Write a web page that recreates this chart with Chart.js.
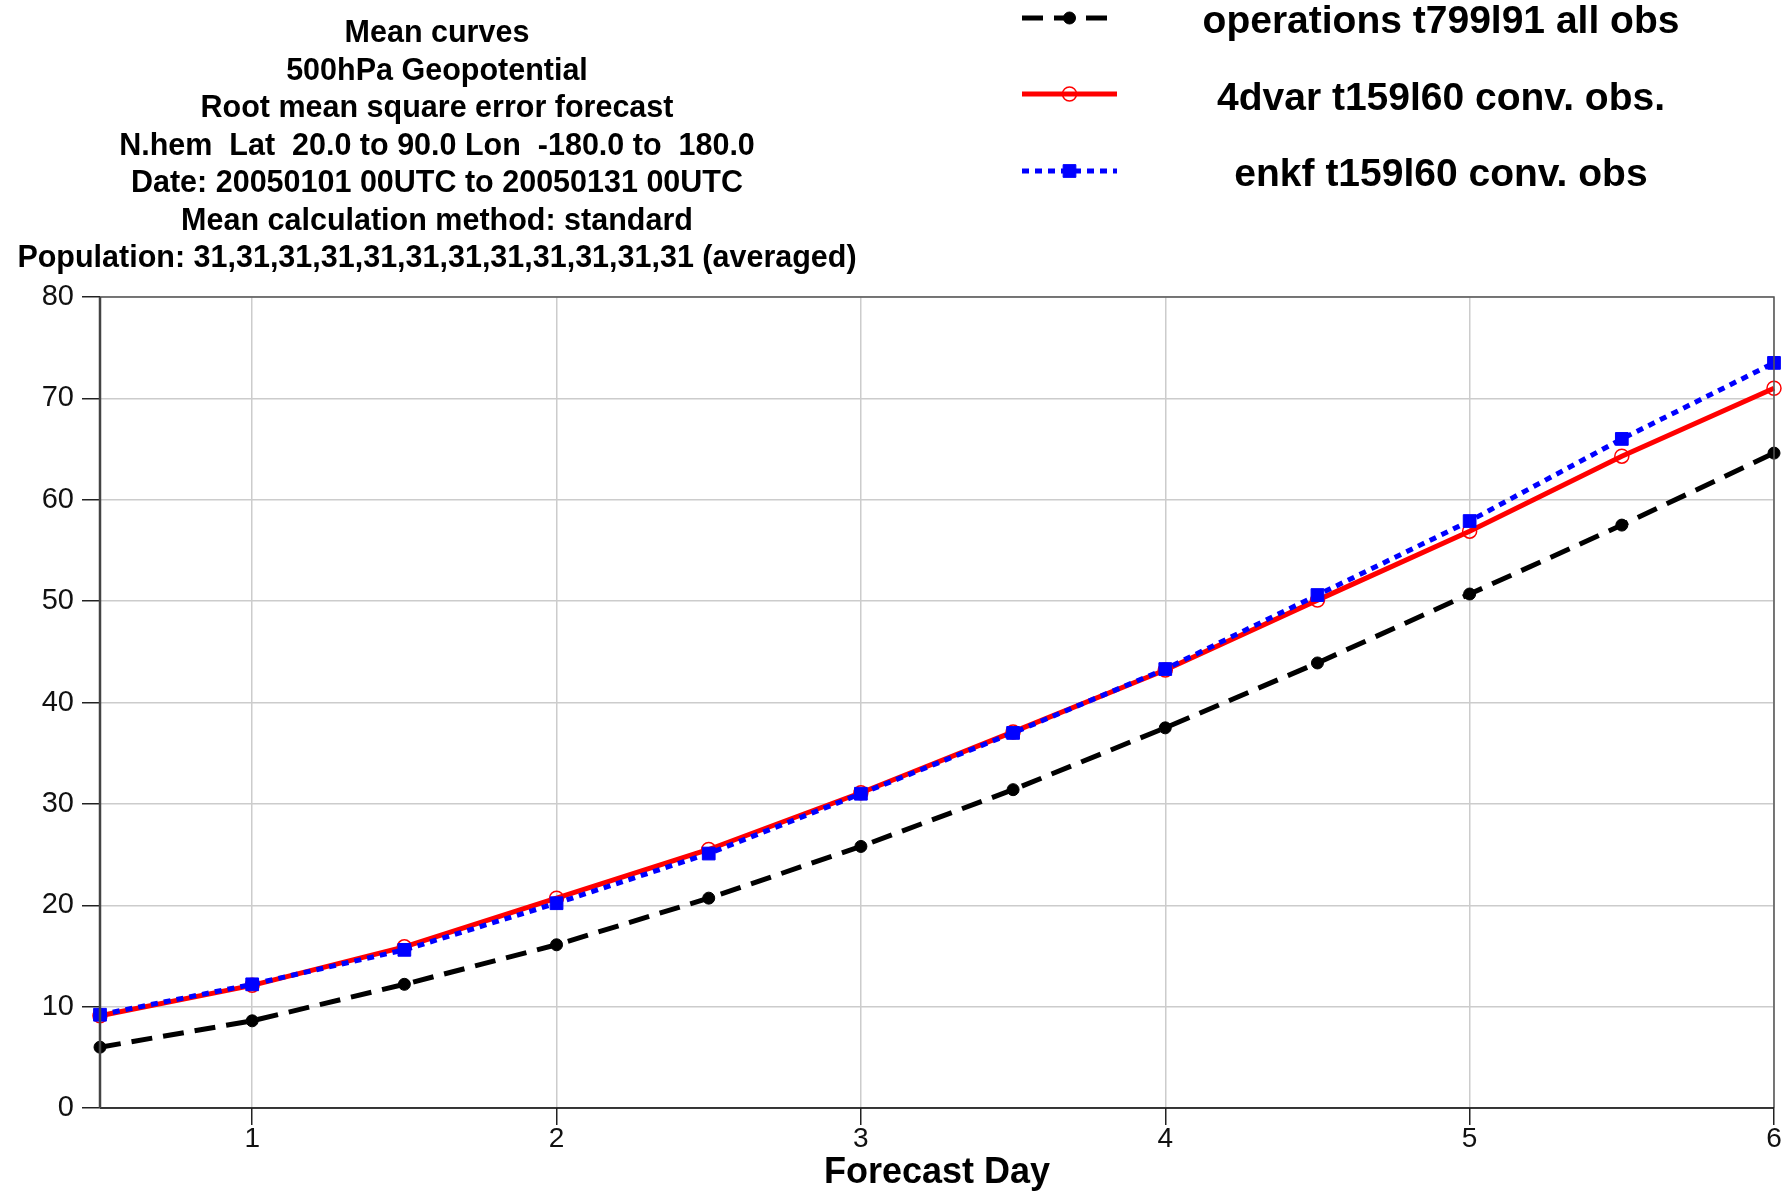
<!DOCTYPE html>
<html>
<head>
<meta charset="utf-8">
<title>Mean curves - 500hPa Geopotential RMSE</title>
<script src="https://cdn.jsdelivr.net/npm/chart.js@4.4.1/dist/chart.umd.min.js"></script>
<style>
  html, body { margin: 0; padding: 0; background: #fff; }
  #wrap { position: relative; width: 1784px; height: 1191px; overflow: hidden; }
  #chart { position: absolute; left: 0; top: 0; }
  .title {
    position: absolute; left: 0; top: 13px; width: 874px;
    text-align: center; color: #000;
    font: bold 30.5px 'Liberation Sans', Arial, sans-serif; line-height: 37.5px;
  }
  .legend-text {
    position: absolute; left: 1200px; width: 482px; height: 46px;
    text-align: center; color: #000;
    font: bold 39px 'Liberation Sans', Arial, sans-serif; line-height: 46px;
  }
</style>
</head>
<body>
<div id="wrap">
  <canvas id="chart" width="1784" height="1191"></canvas>
  <div class="title">
    Mean curves<br>
    500hPa Geopotential<br>
    Root mean square error forecast<br>
    N.hem&nbsp; Lat&nbsp; 20.0 to 90.0 Lon&nbsp; -180.0 to&nbsp; 180.0<br>
    Date: 20050101 00UTC to 20050131 00UTC<br>
    Mean calculation method: standard<br>
    Population: 31,31,31,31,31,31,31,31,31,31,31,31 (averaged)
  </div>
  <div class="legend-text" style="top: -3px;">operations t799l91 all obs</div>
  <div class="legend-text" style="top: 74px;">4dvar t159l60 conv. obs.</div>
  <div class="legend-text" style="top: 150px;">enkf t159l60 conv. obs</div>
</div>
<script>
const forecastDays = [0.5, 1, 1.5, 2, 2.5, 3, 3.5, 4, 4.5, 5, 5.5, 6];
const operationsRmse = [6.0, 8.6, 12.2, 16.1, 20.7, 25.8, 31.4, 37.5, 43.9, 50.7, 57.5, 64.6];
const fourDvarRmse = [9.1, 12.1, 15.9, 20.7, 25.5, 31.1, 37.1, 43.2, 50.1, 56.9, 64.3, 71.0];
const enkfRmse = [9.2, 12.2, 15.6, 20.2, 25.1, 31.0, 37.0, 43.3, 50.6, 57.9, 66.0, 73.5];
const xTickValues = [1, 2, 3, 4, 5, 6];
const yTickValues = [0, 10, 20, 30, 40, 50, 60, 70, 80];

function toPoints(values) {
  return values.map((v, i) => ({ x: forecastDays[i], y: v }));
}

const colorOps = '#000000';
const colorVar = '#ff0000';
const colorEnkf = '#0000ff';
const gridColor = '#cccccc';

// frame round the plot area (top and right edges, left axis is darker)
const chartAreaBorder = {
  id: 'chartAreaBorder',
  afterDatasetsDraw(chart, args, options) {
    const { ctx, chartArea: { left, top, right, bottom } } = chart;
    ctx.save();
    ctx.lineWidth = options.borderWidth;
    ctx.strokeStyle = options.borderColor;
    ctx.beginPath();
    ctx.moveTo(left, top);
    ctx.lineTo(right, top);
    ctx.lineTo(right, bottom);
    ctx.stroke();
    ctx.strokeStyle = '#000';
    ctx.beginPath();
    ctx.moveTo(left, bottom);
    ctx.lineTo(right, bottom);
    ctx.stroke();
    ctx.strokeStyle = options.axisColor;
    ctx.lineWidth = 2.5;
    ctx.beginPath();
    ctx.moveTo(left, top);
    ctx.lineTo(left, bottom);
    ctx.stroke();
    ctx.restore();
  },
};

// line samples for the legend at the top right
const legendSamples = {
  id: 'legendSamples',
  afterDraw(chart, args, options) {
    const { ctx } = chart;
    const cx = (options.x0 + options.x1) / 2;
    chart.data.datasets.forEach((ds, i) => {
      const y = options.rows[i];
      ctx.save();
      ctx.strokeStyle = ds.borderColor;
      ctx.lineWidth = ds.borderWidth;
      ctx.setLineDash(ds.borderDash || []);
      ctx.beginPath();
      ctx.moveTo(options.x0, y);
      ctx.lineTo(options.x1, y);
      ctx.stroke();
      ctx.setLineDash([]);
      ctx.fillStyle = ds.pointBackgroundColor;
      ctx.strokeStyle = ds.pointBorderColor;
      ctx.lineWidth = ds.pointBorderWidth;
      ctx.beginPath();
      if (ds.pointStyle === 'rect') {
        const s = ds.pointRadius * Math.SQRT1_2;
        ctx.rect(cx - s, y - s, 2 * s, 2 * s);
      } else {
        ctx.arc(cx, y, ds.pointRadius, 0, Math.PI * 2);
      }
      ctx.fill();
      ctx.stroke();
      ctx.restore();
    });
  },
};

const chart = new Chart(document.getElementById('chart'), {
  type: 'line',
  data: {
    datasets: [
      {
        label: 'operations t799l91 all obs',
        data: toPoints(operationsRmse),
        borderColor: colorOps,
        borderWidth: 5,
        borderDash: [21, 11],
        pointStyle: 'circle',
        pointRadius: 6,
        pointBackgroundColor: colorOps,
        pointBorderColor: colorOps,
        pointBorderWidth: 1,
        order: 2,
        clip: false,
      },
      {
        label: '4dvar t159l60 conv. obs.',
        data: toPoints(fourDvarRmse),
        borderColor: colorVar,
        borderWidth: 5,
        pointStyle: 'circle',
        pointRadius: 7,
        pointBackgroundColor: 'rgba(255,255,255,0)',
        pointBorderColor: colorVar,
        pointBorderWidth: 1.5,
        order: 1,
        clip: false,
      },
      {
        label: 'enkf t159l60 conv. obs',
        data: toPoints(enkfRmse),
        borderColor: colorEnkf,
        borderWidth: 5,
        borderDash: [7, 6],
        pointStyle: 'rect',
        pointRadius: 9,
        pointBackgroundColor: colorEnkf,
        pointBorderColor: colorEnkf,
        pointBorderWidth: 1,
        order: 0,
        clip: false,
      },
    ],
  },
  options: {
    responsive: false,
    animation: false,
    layout: {
      padding: { top: 297, right: 9, left: 0, bottom: 0 },
    },
    elements: {
      line: { tension: 0, borderCapStyle: 'butt' },
    },
    plugins: {
      legend: { display: false },
      tooltip: { enabled: false },
      title: { display: false },
      chartAreaBorder: {
        borderColor: '#555555',
        borderWidth: 1.5,
        axisColor: '#444444',
      },
      legendSamples: {
        x0: 1022,
        x1: 1117,
        rows: [18, 94, 171],
      },
    },
    scales: {
      x: {
        type: 'linear',
        min: 0.5,
        max: 6,
        afterBuildTicks: (axis) => {
          axis.ticks = xTickValues.map((v) => ({ value: v }));
        },
        afterFit: (axis) => {
          axis.height = 83;
        },
        border: { display: false },
        grid: {
          color: gridColor,
          lineWidth: 1.5,
          tickColor: '#222',
          tickLength: 17,
          drawTicks: true,
        },
        ticks: {
          color: '#111',
          padding: 0,
          maxRotation: 0,
          font: { family: "'Liberation Sans Narrow', 'Liberation Sans', Arial", size: 28, lineHeight: 1.0 },
          callback: (v) => String(v),
        },
        title: {
          display: true,
          text: 'Forecast Day',
          color: '#000',
          padding: 0,
          font: { family: "'Liberation Sans', Arial", size: 36, weight: 'bold', lineHeight: 1.0 },
        },
      },
      y: {
        type: 'linear',
        min: 0,
        max: 80,
        afterBuildTicks: (axis) => {
          axis.ticks = yTickValues.map((v) => ({ value: v }));
        },
        afterFit: (axis) => {
          axis.width = 100;
        },
        border: { display: false },
        grid: {
          color: gridColor,
          lineWidth: 1.5,
          tickColor: '#222',
          tickLength: 18,
        },
        ticks: {
          color: '#111',
          padding: 8,
          font: { family: "'Liberation Sans', Arial", size: 29 },
        },
      },
    },
  },
  plugins: [chartAreaBorder, legendSamples],
});
</script>
</body>
</html>
